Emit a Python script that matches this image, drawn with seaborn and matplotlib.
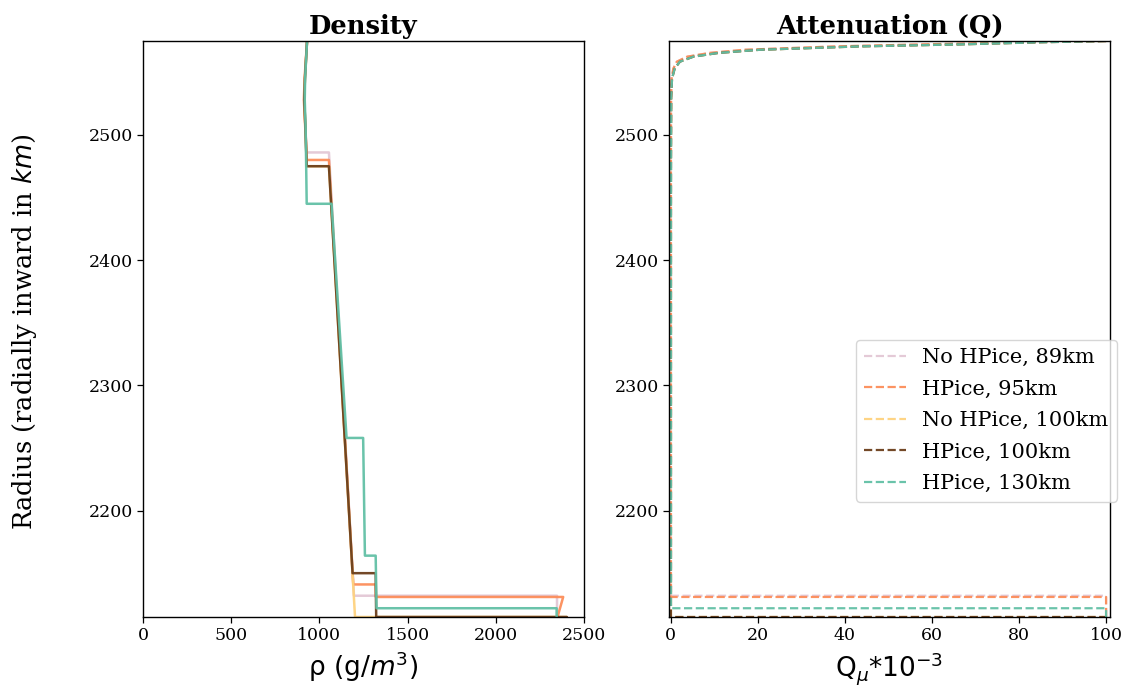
import numpy as np
import pandas as pd
import matplotlib
matplotlib.use("Agg")
import matplotlib.pyplot as plt
import seaborn as sns

# ---------------- data ----------------
models = ["No HPice, 89km", "HPice, 95km", "No HPice, 100km", "HPice, 100km", "HPice, 130km"]
colors = ["#e3c7d5", "#fc8d59", "#fed27f", "#6b3e1b", "#62c0a6"]

# density profiles (g/m^3) vs radius (km), surface -> depth
rho_89 = [930, 918, 914, 921, 928, 1054, 1196, 2347, 2347]
r_89 = [2575, 2545, 2528, 2505, 2486, 2486, 2132, 2132, 2000]

rho_95 = [930, 916, 912, 920, 928, 1054, 1192, 1319, 1320, 2382, 2350, 2318]
r_95 = [2575, 2545, 2528, 2505, 2480, 2480, 2141, 2141, 2131, 2131, 2115, 2099]

rho_100n = [930, 918, 914, 921, 928, 1054, 1202, 2403, 2403]
r_100n = [2575, 2545, 2528, 2505, 2475, 2475, 2115, 2115, 2000]

rho_100 = [930, 918, 914, 921, 928, 1054, 1188, 1319, 1322, 2403, 2403]
r_100 = [2575, 2545, 2528, 2505, 2475, 2475, 2150, 2150, 2115, 2115, 2000]

rho_130 = [930, 919, 917, 922, 928, 1069, 1154, 1248, 1258, 1319, 1324, 2345, 2345]
r_130 = [2575, 2545, 2528, 2505, 2445, 2445, 2258, 2258, 2164, 2164, 2122, 2122, 2000]

# attenuation Q_mu*1e-3 vs radius (km)
q_89 = [100, 80, 58, 38, 17, 9, 3.8, 1.4, 0.6, 0.2, 0.08, 0.05, 0.05, 100, 100]
rq_89 = [2575, 2574, 2572.3, 2570.7, 2568, 2565.5, 2562.5, 2558.5, 2553, 2545, 2530, 2486, 2132, 2132, 2000]

q_95 = [100, 80, 58, 38, 17, 9, 3.8, 1.4, 0.6, 0.2, 0.08, 0.05, 0.05, 100, 100]
rq_95 = [2575, 2574, 2572.3, 2570.7, 2568, 2565.5, 2562.5, 2558.5, 2553, 2545, 2530, 2480, 2131, 2131, 2000]

q_100n = [100, 85, 66.5, 43.5, 20.5, 11, 5.2, 2.1, 0.9, 0.3, 0.1, 0.05, 0.05, 100, 100]
rq_100n = [2575, 2574, 2572.3, 2570.7, 2568, 2565.5, 2562.5, 2558.5, 2553, 2545, 2530, 2475, 2115, 2115, 2000]

q_100 = [100, 85, 66.5, 43.5, 20.5, 11, 5.2, 2.1, 0.9, 0.3, 0.1, 0.05, 0.05, 100, 100]
rq_100 = [2575, 2574, 2572.3, 2570.7, 2568, 2565.5, 2562.5, 2558.5, 2553, 2545, 2530, 2475, 2115, 2115, 2000]

q_130 = [100, 85, 66.5, 43.5, 20.5, 11, 5.2, 2.1, 0.9, 0.3, 0.1, 0.05, 0.05, 100, 100]
rq_130 = [2575, 2574, 2572.3, 2570.7, 2568, 2565.5, 2562.5, 2558.5, 2553, 2545, 2530, 2445, 2122, 2122, 2000]

rho_all = [rho_89, rho_95, rho_100n, rho_100, rho_130]
r_all = [r_89, r_95, r_100n, r_100, r_130]
q_all = [q_89, q_95, q_100n, q_100, q_130]
rq_all = [rq_89, rq_95, rq_100n, rq_100, rq_130]

rho_ticks = [0, 500, 1000, 1500, 2000, 2500]
q_ticks = [0, 20, 40, 60, 80, 100]
r_ticks = [2200, 2300, 2400, 2500]

# ---------------- build frames ----------------
rows_d, rows_q = [], []
for m, rho, r, q, rq in zip(models, rho_all, r_all, q_all, rq_all):
    for i, (a, b) in enumerate(zip(rho, r)):
        rows_d.append({"model": m, "i": i, "rho": a, "r": b})
    for i, (a, b) in enumerate(zip(q, rq)):
        rows_q.append({"model": m, "i": i, "q": a, "r": b})
df_d = pd.DataFrame(rows_d)
df_q = pd.DataFrame(rows_q)

# ---------------- plot ----------------
sns.set_theme(style="ticks")
plt.rcParams["font.family"] = ["DejaVu Serif"]
plt.rcParams["mathtext.fontset"] = "dejavusans"
plt.rcParams["text.color"] = "black"
plt.rcParams["axes.labelcolor"] = "black"

fig = plt.figure(figsize=(11.27, 6.89), dpi=100)
ax1 = fig.add_axes([143 / 1127, 1 - 617 / 689, 441 / 1127, 576 / 689])
ax2 = fig.add_axes([669 / 1127, 1 - 617 / 689, 441 / 1127, 576 / 689])

pal = dict(zip(models, colors))

sns.lineplot(data=df_d, x="rho", y="r", hue="model", hue_order=models, palette=pal,
             sort=False, estimator=None, units="model", lw=1.8, alpha=0.95,
             legend=False, ax=ax1)
sns.lineplot(data=df_q, x="q", y="r", hue="model", hue_order=models, palette=pal,
             sort=False, estimator=None, units="model", lw=1.6, alpha=0.95,
             linestyle="--", legend=False, ax=ax2)

for ax in (ax1, ax2):
    ax.set_ylim(2115, 2575)
    ax.set_yticks(r_ticks)
    ax.tick_params(labelsize=12.5, length=4, width=0.9, colors="black")
    for s in ax.spines.values():
        s.set_color("black")
        s.set_linewidth(1.0)

ax1.set_xlim(0, 2500)
ax1.set_xticks(rho_ticks)
ax2.set_xlim(-0.4, 100.9)
ax2.set_xticks(q_ticks)

ax1.set_title("Density", fontsize=18.5, fontweight="bold", pad=5)
ax2.set_title("Attenuation (Q)", fontsize=18.5, fontweight="bold", pad=5)
ax1.set_xlabel("ρ (g/$m^3$)", fontsize=19, family="DejaVu Sans")
ax2.set_xlabel("Q$_\\mu$*10$^{-3}$", fontsize=19, family="DejaVu Sans")
ax1.set_ylabel("Radius (radially inward in $km$)", fontsize=18.5)
ax1.yaxis.set_label_coords(-0.236, 0.495)
ax2.set_ylabel("")

handles = ax2.get_lines()[:len(models)]
ax2.legend(handles=handles, labels=models, loc="upper right",
           bbox_to_anchor=(1.016, 0.481), borderaxespad=0, fontsize=15,
           labelspacing=0.6, frameon=True)

fig.savefig("out.png", dpi=100)
